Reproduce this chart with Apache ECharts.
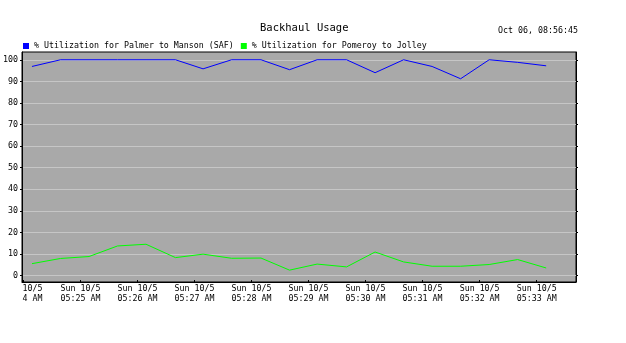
<!DOCTYPE html>
<html>
<head>
<meta charset="utf-8">
<script src="https://cdn.jsdelivr.net/npm/echarts@6/dist/echarts.min.js"></script>
<style>
  html, body { margin: 0; padding: 0; background: #fff; }
  #chart { width: 626px; height: 343px; }
</style>
</head>
<body>
<div id="chart"></div>
<script>
// sample times, seconds relative to Sun 10/5 05:25:00 AM
const times = [-51, -21, 9, 39, 69, 100, 129, 159, 190, 220, 249, 280, 310, 340, 370, 400, 430, 460, 490];
const palmerManson = [96.9, 100, 100, 100, 100, 100, 95.8, 100, 100, 95.4, 100, 100, 94.0, 100, 96.9, 91.2, 100, 98.8, 97.2];
const pomeroyJolley = [5.5, 7.9, 8.8, 13.7, 14.5, 8.3, 9.9, 8.0, 8.1, 2.5, 5.3, 4.0, 10.9, 6.3, 4.3, 4.3, 5.1, 7.4, 3.5];
const yTicks = [0, 10, 20, 30, 40, 50, 60, 70, 80, 90, 100];
const xTicks = [-60, 0, 60, 120, 180, 240, 300, 360, 420, 480];
const seriesNames = ['% Utilization for Palmer to Manson (SAF)', '% Utilization for Pomeroy to Jolley'];

const font = 'DejaVu Sans Mono';
const pair = (xs, ys) => xs.map((t, i) => [t, ys[i]]);

function timeLabel(v) {
  const m = 25 + Math.round(v / 60);
  const mm = (m < 10 ? '0' : '') + m;
  if (v < 0) return '{c|10/5}\n{c|4 AM}';
  return 'Sun 10/5\n05:' + mm + ' AM';
}

const chart = echarts.init(document.getElementById('chart'));
chart.setOption({
  animation: false,
  backgroundColor: '#ffffff',
  title: [
    { text: 'Backhaul Usage', left: 255, top: 18,
      textStyle: { fontFamily: font, fontSize: 10.5, fontWeight: 'normal', color: '#000' } },
    { text: 'Oct 06, 08:56:45', left: 493, top: 22,
      textStyle: { fontFamily: font, fontSize: 8.3, fontWeight: 'normal', color: '#000' } }
  ],
  legend: {
    left: 18, top: 37, itemWidth: 6, itemHeight: 6, itemGap: 7,
    icon: 'rect',
    textStyle: { fontFamily: font, fontSize: 8.3, color: '#000' },
    data: seriesNames
  },
  grid: {
    left: 22, right: 50, top: 52, bottom: 61,
    show: true, backgroundColor: '#a9a9a9', borderColor: '#000', borderWidth: 1
  },
  xAxis: {
    type: 'value', min: -61.5, max: 521.4,
    axisLine: { show: true, onZero: false, lineStyle: { color: '#000' } },
    axisTick: { show: true, inside: true, length: 2, customValues: xTicks, lineStyle: { color: '#000' } },
    axisLabel: {
      customValues: xTicks, formatter: timeLabel, margin: 2, lineHeight: 10,
      fontFamily: font, fontSize: 8.3, color: '#000',
      rich: { c: { fontFamily: font, fontSize: 8.3, color: '#000', lineHeight: 10, padding: [0, 0, 0, 18] } }
    },
    splitLine: { show: false }
  },
  yAxis: [
    {
      type: 'value', min: -3, max: 103.6, position: 'left',
      axisLine: { show: true, onZero: false, lineStyle: { color: '#000' } },
      axisTick: { show: true, length: 2, customValues: yTicks, lineStyle: { color: '#000' } },
      axisLabel: { customValues: yTicks, margin: 4, fontFamily: font, fontSize: 8.3, color: '#000' },
      splitLine: { show: true, lineStyle: { color: '#c6c6c6', width: 1 } }
    },
    {
      type: 'value', min: -3, max: 103.6, position: 'right',
      axisLine: { show: true, onZero: false, lineStyle: { color: '#000' } },
      axisTick: { show: true, length: 2, customValues: yTicks, lineStyle: { color: '#000' } },
      axisLabel: { show: false },
      splitLine: { show: false }
    }
  ],
  series: [
    { name: seriesNames[0], type: 'line', data: pair(times, palmerManson),
      showSymbol: false, color: '#0000ff', lineStyle: { width: 1, color: '#0000ff' } },
    { name: seriesNames[1], type: 'line', data: pair(times, pomeroyJolley),
      showSymbol: false, color: '#00ff00', lineStyle: { width: 1, color: '#00ff00' } }
  ]
});
</script>
</body>
</html>
